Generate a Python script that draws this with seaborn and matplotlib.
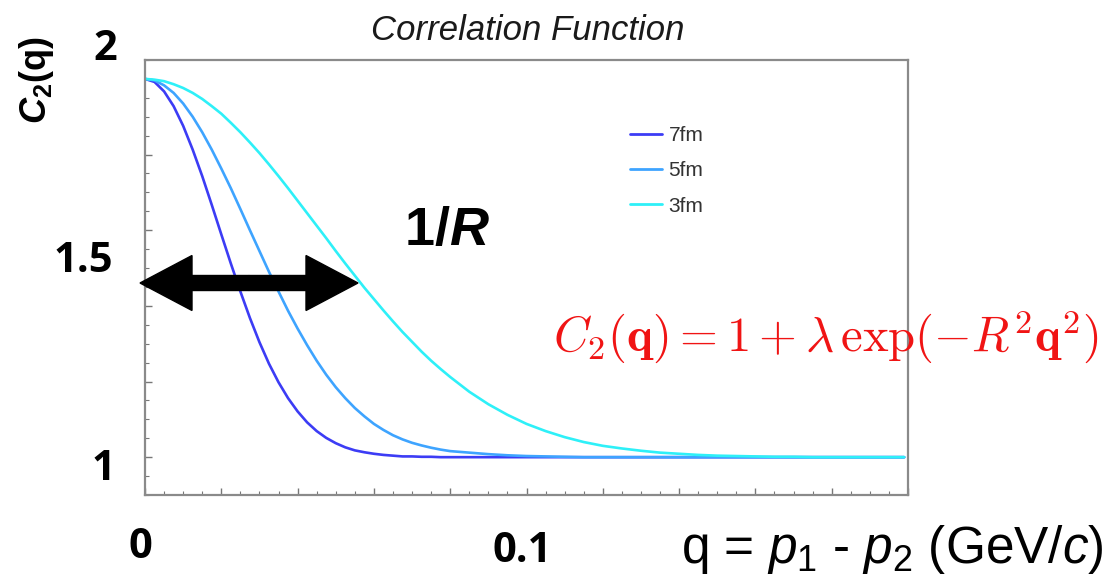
import numpy as np
import pandas as pd
import matplotlib
matplotlib.use("Agg")
import matplotlib.pyplot as plt
from matplotlib.ticker import MultipleLocator
from matplotlib.patches import FancyArrow
from matplotlib.transforms import Affine2D
import seaborn as sns

# ---------------- data ----------------
q_values = [0.0000, 0.0025, 0.0050, 0.0075, 0.0100, 0.0125, 0.0150, 0.0175, 0.0200,
            0.0225, 0.0250, 0.0275, 0.0300, 0.0325, 0.0350, 0.0375, 0.0400, 0.0425,
            0.0450, 0.0475, 0.0500, 0.0525, 0.0550, 0.0575, 0.0600, 0.0625, 0.0650,
            0.0675, 0.0700, 0.0725, 0.0750, 0.0775, 0.0800,
            0.085, 0.090, 0.095, 0.100, 0.105, 0.110, 0.115, 0.120, 0.125, 0.130,
            0.135, 0.140, 0.145, 0.150, 0.155, 0.160, 0.165, 0.170, 0.175, 0.180,
            0.185, 0.190, 0.195,
            0.199]

c2_7fm = [2.000, 1.992, 1.967, 1.928, 1.876, 1.813, 1.743, 1.667, 1.589,
          1.512, 1.438, 1.368, 1.304, 1.247, 1.198, 1.156, 1.121, 1.092,
          1.069, 1.051, 1.037, 1.026, 1.018, 1.013, 1.009, 1.006, 1.004,
          1.002, 1.002, 1.001, 1.001, 1.000, 1.000,
          1.000, 1.000, 1.000, 1.000, 1.000, 1.000, 1.000, 1.000, 1.000, 1.000,
          1.000, 1.000, 1.000, 1.000, 1.000, 1.000, 1.000, 1.000, 1.000, 1.000,
          1.000, 1.000, 1.000,
          1.000]

c2_5fm = [2.000, 1.996, 1.983, 1.963, 1.935, 1.900, 1.859, 1.813, 1.763,
          1.711, 1.656, 1.600, 1.545, 1.490, 1.438, 1.387, 1.340, 1.296,
          1.255, 1.218, 1.185, 1.156, 1.130, 1.108, 1.088, 1.072, 1.058,
          1.047, 1.038, 1.031, 1.025, 1.020, 1.016,
          1.012, 1.008, 1.005, 1.003, 1.002, 1.001, 1.000, 1.000, 1.000, 1.000,
          1.000, 1.000, 1.000, 1.000, 1.000, 1.000, 1.000, 1.000, 1.000, 1.000,
          1.000, 1.000, 1.000,
          1.000]

c2_3fm = [2.000, 1.998, 1.994, 1.986, 1.976, 1.963, 1.947, 1.928, 1.908,
          1.884, 1.859, 1.832, 1.804, 1.774, 1.743, 1.711, 1.678, 1.645,
          1.612, 1.579, 1.545, 1.512, 1.480, 1.448, 1.418, 1.388, 1.359,
          1.331, 1.305, 1.279, 1.255, 1.233, 1.212,
          1.173, 1.140, 1.112, 1.088, 1.069, 1.053, 1.040, 1.030, 1.023, 1.017,
          1.012, 1.009, 1.006, 1.004, 1.003, 1.002, 1.001, 1.001, 1.000, 1.000,
          1.000, 1.000, 1.000,
          1.000]

series_names = ["7fm", "5fm", "3fm"]
series_colors = ["#3c3cf5", "#3ea4ff", "#2ef0f8"]

y_overlay_labels = ["2", "1.5", "1"]
x_overlay_labels = ["0", "0.1"]

df = pd.concat([
    pd.DataFrame({"q": q_values, "C2": vals, "R": name})
    for name, vals in zip(series_names, [c2_7fm, c2_5fm, c2_3fm])
], ignore_index=True)

# ---------------- style ----------------
sns.set_style("white")
plt.rcParams["font.family"] = ["Liberation Sans", "DejaVu Sans"]
plt.rcParams["mathtext.fontset"] = "custom"
plt.rcParams["mathtext.rm"] = "Liberation Sans"
plt.rcParams["mathtext.it"] = "Liberation Sans:italic"
plt.rcParams["mathtext.bf"] = "Liberation Sans:bold"
plt.rcParams["mathtext.bfit"] = "Liberation Sans:italic:bold"

W, H = 1113, 576
fig = plt.figure(figsize=(W / 100, H / 100), dpi=100)
fig.patch.set_facecolor("white")
ax = fig.add_axes([145 / W, (H - 495) / H, 763 / W, 435 / H])

sns.lineplot(data=df, x="q", y="C2", hue="R", hue_order=series_names,
             palette=dict(zip(series_names, series_colors)),
             estimator=None, sort=False, linewidth=1.9, ax=ax)

ax.set_xlim(0, 0.2)
ax.set_ylim(0.9, 2.05)
ax.xaxis.set_major_locator(MultipleLocator(0.02))
ax.xaxis.set_minor_locator(MultipleLocator(0.005))
ax.yaxis.set_major_locator(MultipleLocator(0.2))
ax.yaxis.set_minor_locator(MultipleLocator(0.05))
ax.tick_params(which="both", direction="in", colors="#777777",
               labelbottom=False, labelleft=False, bottom=True, left=True)
ax.tick_params(which="major", length=5, width=1)
ax.tick_params(which="minor", length=3, width=0.8)
ax.set_xlabel("")
ax.set_ylabel("")
for sp in ax.spines.values():
    sp.set_color("#8a8a8a")
    sp.set_linewidth(1.6)

# legend
old = ax.get_legend()
handles = old.legend_handles
labels = [t.get_text() for t in old.texts]
for h, c in zip(handles, series_colors):
    h.set_linewidth(2.0)
    h.set_color(c)
leg = ax.legend(handles, labels, loc="upper left",
                bbox_to_anchor=(630 / W, 1 - 126 / H), bbox_transform=fig.transFigure,
                frameon=False, fontsize=15, handlelength=1.55, handletextpad=0.3,
                labelspacing=0.78, borderpad=0, borderaxespad=0)
for t in leg.get_texts():
    t.set_color("#333333")

# ---------------- overlay texts (figure pixel positions) ----------------
def fx(x):
    return x / W

def fy(y):
    return 1 - y / H

fig.text(fx(528), fy(30), "Correlation Function", ha="center", va="center",
         fontsize=25, style="italic", color="#1a1a1a")

ylab_pos = [(105, 50), (83, 262), (103, 470)]
for lab, (x, y) in zip(y_overlay_labels, ylab_pos):
    fig.text(fx(x), fy(y), lab, ha="center", va="center", fontsize=30,
             fontweight="bold", family=["Open Sans", "DejaVu Sans"], color="black")

xlab_pos = [(140, 548), (522, 552)]
for lab, (x, y) in zip(x_overlay_labels, xlab_pos):
    fig.text(fx(x), fy(y), lab, ha="center", va="center", fontsize=30,
             fontweight="bold", family=["Open Sans", "DejaVu Sans"], color="black")

fig.text(fx(37), fy(80), r"$\mathbfit{C}_{\mathbf{2}}$(q)", ha="center", va="center",
         rotation=90, fontsize=26, fontweight="bold", color="black")

fig.text(fx(892), fy(550), r"q = $\mathit{p}_1$ - $\mathit{p}_2$ (GeV/$\mathit{c}$)",
         ha="center", va="center", fontsize=37, color="black")

fig.text(fx(447), fy(231), r"1/$\mathbfit{R}$", ha="center", va="center",
         fontsize=39, fontweight="bold", color="black")

fig.text(fx(826), fy(337),
         r"$C_{\mathbf{2}}(\mathbf{q}) = \mathbf{1} + \lambda\,\exp(-R^{\mathbf{2}}\mathbf{q}^{\mathbf{2}})$",
         ha="center", va="center", fontsize=35, color="#f01414", math_fontfamily="cm")

# double-headed arrow (pixel coordinates)
tr = Affine2D().scale(1 / W, 1 / H) + fig.transFigure
cx, cy = 249, H - 283
for dx in (-109, 109):
    fig.patches.append(FancyArrow(cx, cy, dx, 0, width=15, head_width=55,
                                  head_length=52, length_includes_head=True,
                                  color="black", transform=tr, figure=fig))

fig.savefig("out.png", dpi=100)
